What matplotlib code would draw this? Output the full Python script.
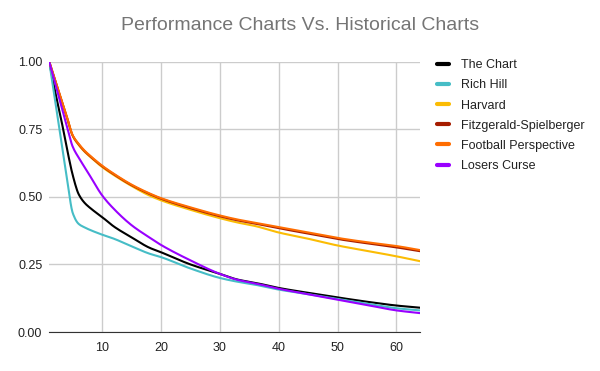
import numpy as np
import matplotlib
matplotlib.use("Agg")
import matplotlib.pyplot as plt
from matplotlib.ticker import FormatStrFormatter

# pick number (x) and share of value remaining (y)
picks = [1, 2, 3, 4, 5, 6, 7, 8, 10, 12, 15, 18, 20, 25, 30, 33, 36, 40, 45, 50, 55, 60, 64]

the_chart = [1.00, 0.89, 0.79, 0.68, 0.58, 0.51, 0.478, 0.458, 0.425, 0.39, 0.35, 0.312, 0.295,
             0.25, 0.215, 0.194, 0.182, 0.163, 0.145, 0.128, 0.112, 0.098, 0.090]
rich_hill = [1.00, 0.857, 0.714, 0.571, 0.44, 0.40, 0.387, 0.377, 0.36, 0.345, 0.317, 0.29, 0.277,
             0.235, 0.20, 0.186, 0.175, 0.157, 0.14, 0.122, 0.105, 0.088, 0.080]
harvard = [1.00, 0.93, 0.862, 0.794, 0.725, 0.692, 0.667, 0.647, 0.61, 0.58, 0.54, 0.505, 0.487,
           0.452, 0.421, 0.405, 0.392, 0.368, 0.345, 0.32, 0.30, 0.280, 0.262]
fitzgerald = [1.00, 0.931, 0.863, 0.795, 0.726, 0.694, 0.669, 0.649, 0.613, 0.583, 0.543, 0.511,
              0.493, 0.458, 0.428, 0.413, 0.401, 0.384, 0.364, 0.344, 0.328, 0.313, 0.299]
football_persp = [1.00, 0.932, 0.864, 0.796, 0.727, 0.696, 0.671, 0.651, 0.615, 0.585, 0.545, 0.513,
                  0.495, 0.461, 0.431, 0.416, 0.404, 0.388, 0.368, 0.348, 0.332, 0.318, 0.303]
losers_curse = [1.00, 0.92, 0.84, 0.76, 0.685, 0.645, 0.61, 0.575, 0.505, 0.455, 0.395, 0.35, 0.322,
                0.265, 0.215, 0.193, 0.18, 0.16, 0.14, 0.12, 0.10, 0.080, 0.070]

series = [
    ("The Chart", the_chart, "#000000"),
    ("Rich Hill", rich_hill, "#46bdc6"),
    ("Harvard", harvard, "#fbbc04"),
    ("Fitzgerald-Spielberger", fitzgerald, "#a61c00"),
    ("Football Perspective", football_persp, "#ff6d01"),
    ("Losers Curse", losers_curse, "#9900ff"),
]


def smooth(x, y, n=400):
    # monotone cubic (pchip) curve through the points, like the sheets "smooth" option
    x = np.asarray(x, float)
    y = np.asarray(y, float)
    h = np.diff(x)
    d = np.diff(y) / h
    m = np.zeros_like(y)
    for k in range(1, len(x) - 1):
        if d[k - 1] * d[k] > 0:
            w1 = 2 * h[k] + h[k - 1]
            w2 = h[k] + 2 * h[k - 1]
            m[k] = (w1 + w2) / (w1 / d[k - 1] + w2 / d[k])
    m[0] = d[0]
    m[-1] = d[-1]
    xs = np.linspace(x[0], x[-1], n)
    i = np.clip(np.searchsorted(x, xs) - 1, 0, len(x) - 2)
    t = (xs - x[i]) / h[i]
    h00 = 2 * t**3 - 3 * t**2 + 1
    h10 = t**3 - 2 * t**2 + t
    h01 = -2 * t**3 + 3 * t**2
    h11 = t**3 - t**2
    ys = h00 * y[i] + h10 * h[i] * m[i] + h01 * y[i + 1] + h11 * h[i] * m[i + 1]
    return xs, ys


plt.rcParams["font.family"] = ["Liberation Sans", "DejaVu Sans"]

fig = plt.figure(figsize=(6, 3.71), dpi=100)
ax = fig.add_axes([0.082, 0.105, 0.618, 0.729])

for name, vals, color in series:
    xs, ys = smooth(picks, vals)
    ax.plot(xs, ys, color=color, lw=1.5, label=name, solid_capstyle="round")

ax.set_xlim(1, 64)
ax.set_ylim(0, 1)
ax.set_xticks([10, 20, 30, 40, 50, 60])
ax.set_yticks([0, 0.25, 0.5, 0.75, 1.0])
ax.yaxis.set_major_formatter(FormatStrFormatter("%.2f"))
ax.grid(True, color="#cccccc", lw=1)
ax.set_axisbelow(True)
for s in ["top", "right", "left"]:
    ax.spines[s].set_visible(False)
ax.spines["bottom"].set_color("#333333")
ax.tick_params(length=0, labelsize=9, colors="#222222")
ax.tick_params(axis="y", pad=5)
ax.tick_params(axis="x", pad=7)

fig.suptitle("Performance Charts Vs. Historical Charts", x=0.5, y=0.955,
             fontsize=14, color="#757575")

leg = ax.legend(loc="upper left", bbox_to_anchor=(1.015, 1.05), frameon=False,
                fontsize=9, handlelength=1.0, handletextpad=0.9, labelspacing=0.65)
for line in leg.get_lines():
    line.set_linewidth(3)
for t in leg.get_texts():
    t.set_color("#222222")

fig.savefig("out.png", dpi=100)
